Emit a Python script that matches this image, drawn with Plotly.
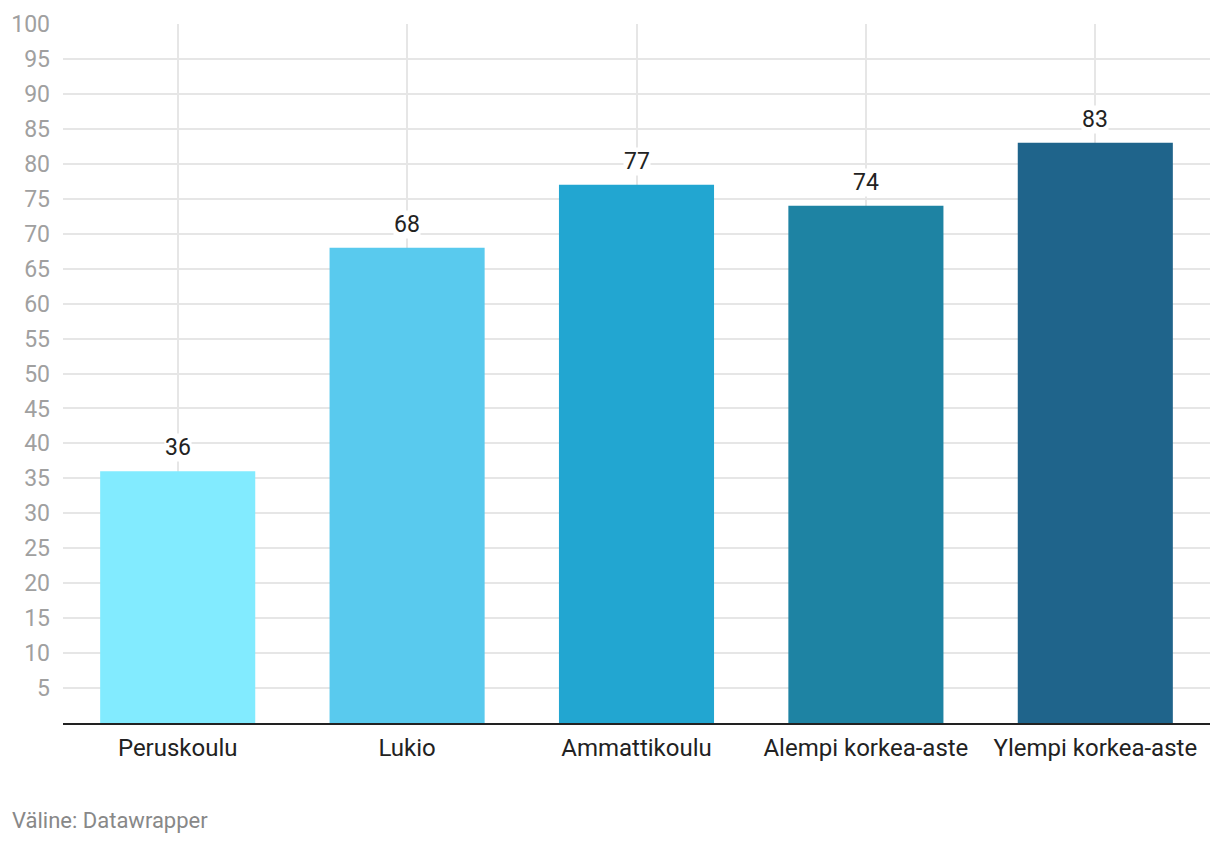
import plotly.graph_objects as go

categories = ["Peruskoulu", "Lukio", "Ammattikoulu", "Alempi korkea-aste", "Ylempi korkea-aste"]
values = [36, 68, 77, 74, 83]
colors = ["#82EBFF", "#59CAEE", "#22A6D1", "#1E83A3", "#1F648B"]
ytick_vals = list(range(5, 101, 5))
source_text = "Väline: Datawrapper"

fig = go.Figure()
fig.add_trace(go.Bar(
    x=categories, y=values, marker=dict(color=colors, line=dict(width=0)),
    width=0.676, hoverinfo="skip",
))

for c, v in zip(categories, values):
    fig.add_annotation(
        x=c, y=v, text=str(v), showarrow=False, yanchor="bottom", yshift=9,
        font=dict(family="Roboto", size=23, color="#222222"),
        bgcolor="white", borderpad=0,
    )

fig.add_annotation(
    xref="paper", yref="paper", x=-0.0462, y=-0.1388, xanchor="left", yanchor="middle",
    text=source_text, showarrow=False,
    font=dict(family="Roboto", size=22, color="#888888"),
)

fig.update_layout(
    width=1220, height=844,
    margin=dict(l=63, r=10, t=24, b=121),
    paper_bgcolor="white", plot_bgcolor="white",
    showlegend=False,
    font=dict(family="Roboto"),
    xaxis=dict(
        showgrid=True, gridcolor="#e6e6e6", gridwidth=2,
        showline=True, linecolor="#222222", linewidth=2,
        ticks="", tickfont=dict(size=24, color="#222222"),
        ticklabelstandoff=2, fixedrange=True,
    ),
    yaxis=dict(
        range=[0, 100], tickvals=ytick_vals, ticktext=[str(t) for t in ytick_vals],
        showgrid=True, gridcolor="#e6e6e6", gridwidth=2, zeroline=False,
        ticks="", tickfont=dict(size=23, color="#a0a0a0"),
        ticklabelstandoff=12, fixedrange=True,
    ),
)

fig.write_html("out.html")
